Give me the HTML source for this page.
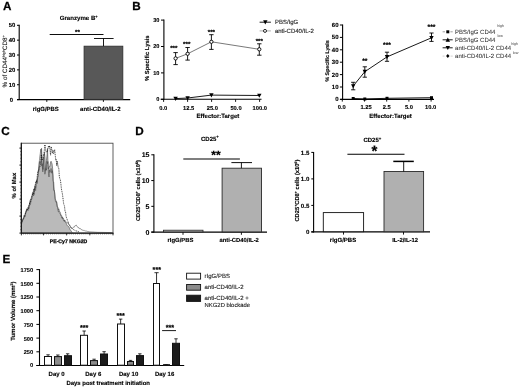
<!DOCTYPE html>
<html><head><meta charset="utf-8"><title>Figure</title>
<style>
html,body{margin:0;padding:0;background:#fff;}
body{width:520px;height:388px;overflow:hidden;}
svg{display:block;font-family:"Liberation Sans",sans-serif;text-rendering:geometricPrecision;will-change:transform;filter:grayscale(1) blur(0.35px);}
</style></head><body>
<svg width="520" height="388" viewBox="0 0 520 388">
<rect x="0" y="0" width="520" height="388" fill="#ffffff"/>
<text x="2.90" y="9.50" font-size="11.7" text-anchor="start" font-weight="bold" fill="#000" stroke="#000" stroke-width="0.25">A</text>
<text x="132.30" y="9.50" font-size="11.7" text-anchor="start" font-weight="bold" fill="#000" stroke="#000" stroke-width="0.25">B</text>
<text x="1.20" y="135.40" font-size="11.7" text-anchor="start" font-weight="bold" fill="#000" stroke="#000" stroke-width="0.25">C</text>
<text x="135.20" y="135.00" font-size="11.7" text-anchor="start" font-weight="bold" fill="#000" stroke="#000" stroke-width="0.25">D</text>
<text x="2.40" y="262.90" font-size="11.7" text-anchor="start" font-weight="bold" fill="#000" stroke="#000" stroke-width="0.25">E</text>
<text x="78.70" y="20.10" font-size="6.1" text-anchor="middle" font-weight="bold" fill="#000"  stroke="#000" stroke-width="0.12">Granzyme B<tspan font-size="4.0" dy="-2.30">+</tspan></text>
<line x1="19.20" y1="24.70" x2="19.20" y2="100.10" stroke="#000" stroke-width="1.1" />
<line x1="17.00" y1="99.60" x2="130.20" y2="99.60" stroke="#000" stroke-width="1.1" />
<line x1="17.00" y1="99.60" x2="19.20" y2="99.60" stroke="#000" stroke-width="1" />
<text x="13.10" y="101.55" font-size="5.9" text-anchor="end" font-weight="bold" fill="#000"  stroke="#000" stroke-width="0.12">0</text>
<line x1="17.00" y1="84.74" x2="19.20" y2="84.74" stroke="#000" stroke-width="1" />
<text x="15.20" y="86.69" font-size="5.9" text-anchor="end" font-weight="bold" fill="#000"  stroke="#000" stroke-width="0.12">10</text>
<line x1="17.00" y1="69.88" x2="19.20" y2="69.88" stroke="#000" stroke-width="1" />
<text x="15.20" y="71.83" font-size="5.9" text-anchor="end" font-weight="bold" fill="#000"  stroke="#000" stroke-width="0.12">20</text>
<line x1="17.00" y1="55.02" x2="19.20" y2="55.02" stroke="#000" stroke-width="1" />
<text x="15.20" y="56.97" font-size="5.9" text-anchor="end" font-weight="bold" fill="#000"  stroke="#000" stroke-width="0.12">30</text>
<line x1="17.00" y1="40.16" x2="19.20" y2="40.16" stroke="#000" stroke-width="1" />
<text x="15.20" y="42.11" font-size="5.9" text-anchor="end" font-weight="bold" fill="#000"  stroke="#000" stroke-width="0.12">40</text>
<line x1="17.00" y1="25.30" x2="19.20" y2="25.30" stroke="#000" stroke-width="1" />
<text x="15.20" y="27.25" font-size="5.9" text-anchor="end" font-weight="bold" fill="#000"  stroke="#000" stroke-width="0.12">50</text>
<line x1="46.80" y1="99.60" x2="46.80" y2="101.90" stroke="#000" stroke-width="0.9" />
<line x1="103.40" y1="99.60" x2="103.40" y2="101.90" stroke="#000" stroke-width="0.9" />
<rect x="84.10" y="46.20" width="38.70" height="53.20" fill="#585858" stroke="#303030" stroke-width="0.9"/>
<line x1="103.50" y1="38.50" x2="103.50" y2="46.20" stroke="#000" stroke-width="0.9" />
<line x1="94.00" y1="38.50" x2="113.60" y2="38.50" stroke="#000" stroke-width="0.9" />
<line x1="49.70" y1="34.50" x2="103.50" y2="34.50" stroke="#000" stroke-width="0.95" />
<text x="77.40" y="33.80" font-size="6.2" text-anchor="middle" font-weight="bold" fill="#000"  stroke="#000" stroke-width="0.22">**</text>
<text x="45.80" y="110.60" font-size="5.95" text-anchor="middle" font-weight="bold" fill="#000"  stroke="#000" stroke-width="0.12">rIgG/PBS</text>
<text x="100.40" y="110.60" font-size="6.05" text-anchor="middle" font-weight="bold" fill="#000"  stroke="#000" stroke-width="0.12">anti-CD40/IL-2</text>
<text x="7.20" y="61.30" font-size="6.3" text-anchor="middle" font-weight="normal" fill="#1a1a1a" transform="rotate(-90 7.20 61.30)"  stroke="#1a1a1a" stroke-width="0.12">% of CD44<tspan font-size="3.7" dy="-2.20">high</tspan><tspan dy="2.20">CD8</tspan><tspan font-size="3.9" dy="-2.20">+</tspan></text>
<line x1="163.90" y1="19.50" x2="163.90" y2="99.80" stroke="#000" stroke-width="1.1" />
<line x1="160.60" y1="99.30" x2="261.50" y2="99.30" stroke="#000" stroke-width="1.1" />
<line x1="161.00" y1="99.30" x2="163.90" y2="99.30" stroke="#000" stroke-width="1" />
<text x="159.40" y="101.20" font-size="5.6" text-anchor="end" font-weight="bold" fill="#000"  stroke="#000" stroke-width="0.12">0</text>
<line x1="161.00" y1="72.90" x2="163.90" y2="72.90" stroke="#000" stroke-width="1" />
<text x="159.40" y="74.80" font-size="5.6" text-anchor="end" font-weight="bold" fill="#000"  stroke="#000" stroke-width="0.12">10</text>
<line x1="161.00" y1="46.50" x2="163.90" y2="46.50" stroke="#000" stroke-width="1" />
<text x="159.40" y="48.40" font-size="5.6" text-anchor="end" font-weight="bold" fill="#000"  stroke="#000" stroke-width="0.12">20</text>
<line x1="161.00" y1="20.10" x2="163.90" y2="20.10" stroke="#000" stroke-width="1" />
<text x="159.40" y="22.00" font-size="5.6" text-anchor="end" font-weight="bold" fill="#000"  stroke="#000" stroke-width="0.12">30</text>
<line x1="163.60" y1="99.30" x2="163.60" y2="101.90" stroke="#000" stroke-width="0.9" />
<text x="163.20" y="109.80" font-size="5.75" text-anchor="middle" font-weight="bold" fill="#000"  stroke="#000" stroke-width="0.12">0.0</text>
<line x1="187.60" y1="99.30" x2="187.60" y2="101.90" stroke="#000" stroke-width="0.9" />
<text x="188.60" y="109.80" font-size="5.75" text-anchor="middle" font-weight="bold" fill="#000"  stroke="#000" stroke-width="0.12">12.5</text>
<line x1="211.60" y1="99.30" x2="211.60" y2="101.90" stroke="#000" stroke-width="0.9" />
<text x="212.30" y="109.80" font-size="5.75" text-anchor="middle" font-weight="bold" fill="#000"  stroke="#000" stroke-width="0.12">25.0</text>
<line x1="235.60" y1="99.30" x2="235.60" y2="101.90" stroke="#000" stroke-width="0.9" />
<text x="236.00" y="109.80" font-size="5.75" text-anchor="middle" font-weight="bold" fill="#000"  stroke="#000" stroke-width="0.12">50.0</text>
<line x1="259.60" y1="99.30" x2="259.60" y2="101.90" stroke="#000" stroke-width="0.9" />
<text x="259.80" y="109.80" font-size="5.75" text-anchor="middle" font-weight="bold" fill="#000"  stroke="#000" stroke-width="0.12">100.0</text>
<text x="217.90" y="118.00" font-size="6.03" text-anchor="middle" font-weight="bold" fill="#000"  stroke="#000" stroke-width="0.12">Effector:Target</text>
<text x="149.30" y="58.20" font-size="5.85" text-anchor="middle" font-weight="bold" fill="#000" transform="rotate(-90 149.30 58.20)"  stroke="#000" stroke-width="0.12">% Specific Lysis</text>
<polyline fill="none" stroke="#6a6a6a" stroke-width="0.9" points="175.6,58.4 187.6,53.8 211.4,41.8 259.3,49.3"/>
<line x1="175.60" y1="52.60" x2="175.60" y2="64.60" stroke="#000" stroke-width="0.9" />
<line x1="173.40" y1="52.60" x2="177.80" y2="52.60" stroke="#000" stroke-width="0.9" />
<line x1="173.40" y1="64.60" x2="177.80" y2="64.60" stroke="#000" stroke-width="0.9" />
<circle cx="175.6" cy="58.4" r="1.65" fill="#fff" stroke="#000" stroke-width="0.9"/>
<text x="173.80" y="50.00" font-size="6.2" text-anchor="middle" font-weight="bold" fill="#000"  stroke="#000" stroke-width="0.22">***</text>
<line x1="187.60" y1="47.50" x2="187.60" y2="60.10" stroke="#000" stroke-width="0.9" />
<line x1="185.40" y1="47.50" x2="189.80" y2="47.50" stroke="#000" stroke-width="0.9" />
<line x1="185.40" y1="60.10" x2="189.80" y2="60.10" stroke="#000" stroke-width="0.9" />
<circle cx="187.6" cy="53.8" r="1.65" fill="#fff" stroke="#000" stroke-width="0.9"/>
<text x="186.70" y="45.70" font-size="6.2" text-anchor="middle" font-weight="bold" fill="#000"  stroke="#000" stroke-width="0.22">***</text>
<line x1="211.40" y1="34.70" x2="211.40" y2="49.40" stroke="#000" stroke-width="0.9" />
<line x1="209.20" y1="34.70" x2="213.60" y2="34.70" stroke="#000" stroke-width="0.9" />
<line x1="209.20" y1="49.40" x2="213.60" y2="49.40" stroke="#000" stroke-width="0.9" />
<circle cx="211.4" cy="41.8" r="1.65" fill="#fff" stroke="#000" stroke-width="0.9"/>
<text x="211.40" y="34.10" font-size="6.2" text-anchor="middle" font-weight="bold" fill="#000"  stroke="#000" stroke-width="0.22">***</text>
<line x1="259.30" y1="43.80" x2="259.30" y2="55.20" stroke="#000" stroke-width="0.9" />
<line x1="257.10" y1="43.80" x2="261.50" y2="43.80" stroke="#000" stroke-width="0.9" />
<line x1="257.10" y1="55.20" x2="261.50" y2="55.20" stroke="#000" stroke-width="0.9" />
<circle cx="259.3" cy="49.3" r="1.65" fill="#fff" stroke="#000" stroke-width="0.9"/>
<text x="259.30" y="42.60" font-size="6.2" text-anchor="middle" font-weight="bold" fill="#000"  stroke="#000" stroke-width="0.22">***</text>
<polyline fill="none" stroke="#000" stroke-width="0.9" points="175.6,98.6 187.6,98.0 211.4,95.1 259.3,95.5"/>
<polygon points="173.40,96.73 177.80,96.73 175.60,100.91" fill="#000"/>
<polygon points="185.40,96.13 189.80,96.13 187.60,100.31" fill="#000"/>
<polygon points="209.20,93.23 213.60,93.23 211.40,97.41" fill="#000"/>
<polygon points="257.10,93.63 261.50,93.63 259.30,97.81" fill="#000"/>
<line x1="259.60" y1="22.20" x2="270.90" y2="22.20" stroke="#000" stroke-width="0.9" />
<polygon points="263.10,20.33 267.50,20.33 265.30,24.51" fill="#000"/>
<text x="274.90" y="24.30" font-size="6" text-anchor="start" font-weight="normal" fill="#222"  stroke="#222" stroke-width="0.12">PBS/IgG</text>
<line x1="259.60" y1="30.90" x2="270.90" y2="30.90" stroke="#999" stroke-width="0.8" />
<circle cx="265.0" cy="30.9" r="1.5" fill="#fff" stroke="#000" stroke-width="0.85"/>
<text x="274.90" y="33.00" font-size="6" text-anchor="start" font-weight="normal" fill="#222"  stroke="#222" stroke-width="0.12">anti-CD40/IL-2</text>
<line x1="342.60" y1="24.60" x2="342.60" y2="99.90" stroke="#000" stroke-width="1.1" />
<line x1="340.20" y1="99.40" x2="434.00" y2="99.40" stroke="#000" stroke-width="1.1" />
<line x1="339.90" y1="99.40" x2="342.60" y2="99.40" stroke="#000" stroke-width="1" />
<text x="338.50" y="101.45" font-size="6.0" text-anchor="end" font-weight="bold" fill="#000"  stroke="#000" stroke-width="0.12">0</text>
<line x1="339.90" y1="87.00" x2="342.60" y2="87.00" stroke="#000" stroke-width="1" />
<text x="338.50" y="89.05" font-size="6.0" text-anchor="end" font-weight="bold" fill="#000"  stroke="#000" stroke-width="0.12">10</text>
<line x1="339.90" y1="74.60" x2="342.60" y2="74.60" stroke="#000" stroke-width="1" />
<text x="338.50" y="76.65" font-size="6.0" text-anchor="end" font-weight="bold" fill="#000"  stroke="#000" stroke-width="0.12">20</text>
<line x1="339.90" y1="62.20" x2="342.60" y2="62.20" stroke="#000" stroke-width="1" />
<text x="338.50" y="64.25" font-size="6.0" text-anchor="end" font-weight="bold" fill="#000"  stroke="#000" stroke-width="0.12">30</text>
<line x1="339.90" y1="49.80" x2="342.60" y2="49.80" stroke="#000" stroke-width="1" />
<text x="338.50" y="51.85" font-size="6.0" text-anchor="end" font-weight="bold" fill="#000"  stroke="#000" stroke-width="0.12">40</text>
<line x1="339.90" y1="37.40" x2="342.60" y2="37.40" stroke="#000" stroke-width="1" />
<text x="338.50" y="39.45" font-size="6.0" text-anchor="end" font-weight="bold" fill="#000"  stroke="#000" stroke-width="0.12">50</text>
<line x1="339.90" y1="25.00" x2="342.60" y2="25.00" stroke="#000" stroke-width="1" />
<text x="338.50" y="27.05" font-size="6.0" text-anchor="end" font-weight="bold" fill="#000"  stroke="#000" stroke-width="0.12">60</text>
<line x1="342.30" y1="99.40" x2="342.30" y2="101.60" stroke="#000" stroke-width="0.9" />
<text x="341.80" y="109.40" font-size="5.75" text-anchor="middle" font-weight="bold" fill="#000"  stroke="#000" stroke-width="0.12">0.0</text>
<line x1="364.50" y1="99.40" x2="364.50" y2="101.60" stroke="#000" stroke-width="0.9" />
<text x="366.00" y="109.40" font-size="5.75" text-anchor="middle" font-weight="bold" fill="#000"  stroke="#000" stroke-width="0.12">1.25</text>
<line x1="386.70" y1="99.40" x2="386.70" y2="101.60" stroke="#000" stroke-width="0.9" />
<text x="386.80" y="109.40" font-size="5.75" text-anchor="middle" font-weight="bold" fill="#000"  stroke="#000" stroke-width="0.12">2.5</text>
<line x1="408.90" y1="99.40" x2="408.90" y2="101.60" stroke="#000" stroke-width="0.9" />
<text x="408.90" y="109.40" font-size="5.75" text-anchor="middle" font-weight="bold" fill="#000"  stroke="#000" stroke-width="0.12">5.0</text>
<line x1="431.10" y1="99.40" x2="431.10" y2="101.60" stroke="#000" stroke-width="0.9" />
<text x="430.60" y="109.40" font-size="5.75" text-anchor="middle" font-weight="bold" fill="#000"  stroke="#000" stroke-width="0.12">10.0</text>
<text x="390.60" y="117.80" font-size="5.99" text-anchor="middle" font-weight="bold" fill="#000"  stroke="#000" stroke-width="0.12">Effector:Target</text>
<text x="328.60" y="60.90" font-size="5.3" text-anchor="middle" font-weight="bold" fill="#000" transform="rotate(-90 328.60 60.90)"  stroke="#000" stroke-width="0.12">% Specific Lysis</text>
<polyline fill="none" stroke="#000" stroke-width="0.9" points="353.2,86.0 364.8,71.7 387.0,56.9 431.5,37.8"/>
<line x1="353.20" y1="82.30" x2="353.20" y2="89.80" stroke="#000" stroke-width="0.9" />
<line x1="351.10" y1="82.30" x2="355.30" y2="82.30" stroke="#000" stroke-width="0.9" />
<line x1="351.10" y1="89.80" x2="355.30" y2="89.80" stroke="#000" stroke-width="0.9" />
<polygon points="351.00,84.13 355.40,84.13 353.20,88.31" fill="#000"/>
<line x1="364.80" y1="66.80" x2="364.80" y2="77.20" stroke="#000" stroke-width="0.9" />
<line x1="362.70" y1="66.80" x2="366.90" y2="66.80" stroke="#000" stroke-width="0.9" />
<line x1="362.70" y1="77.20" x2="366.90" y2="77.20" stroke="#000" stroke-width="0.9" />
<polygon points="362.60,69.83 367.00,69.83 364.80,74.01" fill="#000"/>
<text x="364.80" y="63.10" font-size="6.7" text-anchor="middle" font-weight="bold" fill="#000"  stroke="#000" stroke-width="0.22">**</text>
<line x1="387.00" y1="52.20" x2="387.00" y2="61.30" stroke="#000" stroke-width="0.9" />
<line x1="384.90" y1="52.20" x2="389.10" y2="52.20" stroke="#000" stroke-width="0.9" />
<line x1="384.90" y1="61.30" x2="389.10" y2="61.30" stroke="#000" stroke-width="0.9" />
<polygon points="384.80,55.03 389.20,55.03 387.00,59.21" fill="#000"/>
<text x="387.00" y="47.40" font-size="6.7" text-anchor="middle" font-weight="bold" fill="#000"  stroke="#000" stroke-width="0.22">***</text>
<line x1="431.50" y1="33.00" x2="431.50" y2="41.40" stroke="#000" stroke-width="0.9" />
<line x1="429.40" y1="33.00" x2="433.60" y2="33.00" stroke="#000" stroke-width="0.9" />
<line x1="429.40" y1="41.40" x2="433.60" y2="41.40" stroke="#000" stroke-width="0.9" />
<polygon points="429.30,35.93 433.70,35.93 431.50,40.11" fill="#000"/>
<text x="431.50" y="28.70" font-size="6.7" text-anchor="middle" font-weight="bold" fill="#000"  stroke="#000" stroke-width="0.22">***</text>
<polyline fill="none" stroke="#000" stroke-width="0.9" points="353.2,98.5 364.8,99.0 387.0,98.3 431.5,97.7"/>
<rect x="351.7" y="97.0" width="3" height="3" fill="#000"/>
<rect x="363.3" y="97.5" width="3" height="3" fill="#000"/>
<rect x="385.5" y="96.8" width="3" height="3" fill="#000"/>
<rect x="430.0" y="96.2" width="3" height="3" fill="#000"/>
<line x1="442.60" y1="31.80" x2="445.00" y2="31.80" stroke="#888" stroke-width="0.8" />
<line x1="450.40" y1="31.80" x2="452.70" y2="31.80" stroke="#888" stroke-width="0.8" />
<rect x="446.3" y="30.3" width="3" height="3" fill="#000"/>
<text x="455.10" y="33.90" font-size="6" text-anchor="start" font-weight="normal" fill="#2e2e2e" stroke="#2e2e2e" stroke-width="0.04">PBS/IgG CD44</text>
<text x="497.20" y="27.40" font-size="3.7" text-anchor="start" font-weight="normal" fill="#444" stroke="none">high</text>
<line x1="442.60" y1="39.80" x2="452.70" y2="39.80" stroke="#000" stroke-width="0.9" />
<polygon points="445.60,41.67 450.00,41.67 447.80,37.49" fill="#000"/>
<text x="455.10" y="41.90" font-size="6" text-anchor="start" font-weight="normal" fill="#2e2e2e" stroke="#2e2e2e" stroke-width="0.04">PBS/IgG CD44</text>
<text x="497.50" y="37.30" font-size="3.7" text-anchor="start" font-weight="normal" fill="#444" stroke="none">low</text>
<line x1="442.60" y1="47.80" x2="452.70" y2="47.80" stroke="#000" stroke-width="0.9" />
<polygon points="445.60,45.93 450.00,45.93 447.80,50.11" fill="#000"/>
<text x="455.10" y="49.90" font-size="6" text-anchor="start" font-weight="normal" fill="#2e2e2e" stroke="#2e2e2e" stroke-width="0.04">anti-CD40/IL-2 CD44</text>
<text x="511.20" y="44.90" font-size="3.7" text-anchor="start" font-weight="normal" fill="#444" stroke="none">high</text>
<line x1="442.60" y1="56.10" x2="444.50" y2="56.10" stroke="#bbb" stroke-width="0.7" />
<line x1="450.60" y1="56.10" x2="452.70" y2="56.10" stroke="#bbb" stroke-width="0.7" />
<polygon points="446.1,56.1 447.8,54.1 449.5,56.1 447.8,58.1" fill="#000"/>
<text x="455.10" y="58.20" font-size="6" text-anchor="start" font-weight="normal" fill="#2e2e2e" stroke="#2e2e2e" stroke-width="0.04">anti-CD40/IL-2 CD44</text>
<text x="512.80" y="54.10" font-size="3.7" text-anchor="start" font-weight="normal" fill="#444" stroke="none">low</text>
<polygon points="21.44,232.85 21.44,223.23 22.09,221.07 22.73,219.54 23.25,219.32 23.76,219.09 24.28,215.22 24.79,216.94 25.40,215.52 26.00,211.20 26.60,209.96 27.24,209.47 27.89,210.89 28.53,209.59 29.18,207.08 29.82,201.27 30.46,199.50 31.11,199.68 31.75,199.33 32.40,197.11 33.04,193.20 33.69,188.87 34.33,190.85 34.97,185.63 35.62,190.64 36.13,184.24 36.65,179.97 37.16,183.60 37.68,177.30 38.20,176.46 38.71,168.44 39.48,161.46 40.00,163.64 40.77,161.38 41.55,148.29 42.32,167.16 43.09,169.44 43.87,158.58 44.38,152.37 44.90,157.10 45.67,170.61 46.44,160.27 46.96,156.05 47.47,148.80 48.25,168.95 49.02,166.67 49.79,166.60 50.57,162.00 51.08,161.25 51.60,162.50 52.11,164.21 52.63,168.76 53.14,181.38 53.66,181.87 54.18,189.66 54.69,194.22 55.21,199.92 55.72,202.06 56.24,201.82 56.75,201.78 57.27,206.38 57.78,206.99 58.30,211.64 58.81,210.82 59.33,212.83 59.85,213.70 60.36,214.31 60.88,215.64 61.39,216.29 61.91,218.10 62.42,217.08 62.94,218.28 63.45,220.27 63.97,221.12 64.48,220.03 65.00,221.92 65.52,222.52 66.03,222.72 66.55,224.25 67.06,225.24 67.58,225.86 68.09,225.92 68.61,226.62 69.12,227.30 69.64,228.60 70.15,229.62 70.67,230.33 71.19,231.06 71.70,231.75 72.22,232.59 72.22,232.85" fill="#bababa" stroke="none"/>
<polyline points="21.44,223.23 22.09,221.07 22.73,219.54 23.25,219.32 23.76,219.09 24.28,215.22 24.79,216.94 25.40,215.52 26.00,211.20 26.60,209.96 27.24,209.47 27.89,210.89 28.53,209.59 29.18,207.08 29.82,201.27 30.46,199.50 31.11,199.68 31.75,199.33 32.40,197.11 33.04,193.20 33.69,188.87 34.33,190.85 34.97,185.63 35.62,190.64 36.13,184.24 36.65,179.97 37.16,183.60 37.68,177.30 38.20,176.46 38.71,168.44 39.48,161.46 40.00,163.64 40.77,161.38 41.55,148.29 42.32,167.16 43.09,169.44 43.87,158.58 44.38,152.37 44.90,157.10 45.67,170.61 46.44,160.27 46.96,156.05 47.47,148.80 48.25,168.95 49.02,166.67 49.79,166.60 50.57,162.00 51.08,161.25 51.60,162.50 52.11,164.21 52.63,168.76 53.14,181.38 53.66,181.87 54.18,189.66 54.69,194.22 55.21,199.92 55.72,202.06 56.24,201.82 56.75,201.78 57.27,206.38 57.78,206.99 58.30,211.64 58.81,210.82 59.33,212.83 59.85,213.70 60.36,214.31 60.88,215.64 61.39,216.29 61.91,218.10 62.42,217.08 62.94,218.28 63.45,220.27 63.97,221.12 64.48,220.03 65.00,221.92 65.52,222.52 66.03,222.72 66.55,224.25 67.06,225.24 67.58,225.86 68.09,225.92 68.61,226.62 69.12,227.30 69.64,228.60 70.15,229.62 70.67,230.33 71.19,231.06 71.70,231.75 72.22,232.59" fill="none" stroke="#4a4a4a" stroke-width="0.6" stroke-linejoin="round"/>
<polyline points="21.44,224.22 22.04,221.21 22.65,220.58 23.25,219.17 23.81,216.58 24.36,215.26 24.92,214.41 25.48,212.43 26.04,212.48 26.60,208.81 27.16,209.87 27.73,209.12 28.30,207.48 28.87,205.18 29.43,204.42 29.95,204.27 30.46,204.71 30.98,200.02 31.49,197.45 32.01,195.86 32.53,192.61 33.04,194.00 33.56,195.83 34.07,194.71 34.59,188.27 35.10,187.91 35.62,188.06 36.13,180.99 36.65,181.50 37.16,182.18 37.68,177.36 38.20,171.00 38.71,171.58 39.23,162.50 39.74,156.96 40.26,153.74 40.77,149.08 41.29,154.37 41.80,166.09 42.32,163.73 42.84,171.86 43.35,156.98 43.87,164.99 44.38,169.06 44.90,174.22 45.41,172.00 45.93,168.60 46.44,170.10 46.96,161.39 47.47,163.65 47.99,161.56 48.51,173.61 49.02,176.97 49.54,169.80 50.05,172.48 50.57,171.66 51.08,168.43 51.73,173.22 52.37,170.60 53.02,175.94 53.66,190.19 54.18,190.10 54.69,192.38 55.21,198.32 55.72,200.06 56.24,201.07 56.75,203.80 57.27,207.02 57.78,207.48 58.30,210.26 58.81,208.82 59.33,210.55 59.85,212.25 60.36,212.41 60.88,215.38 61.39,215.19 61.91,216.04 62.42,218.75 62.94,218.53 63.45,218.27 63.97,219.63 64.48,221.35 65.00,220.69 65.52,220.91 66.03,222.13 66.55,222.67 67.06,222.96 67.58,222.78 68.09,223.01 68.61,224.36 69.12,224.84 69.64,225.38 70.15,226.09 70.67,226.98 71.19,227.30 71.70,227.62 72.22,228.61 72.73,228.07 73.25,227.30 73.76,227.03 74.28,227.14 74.79,226.09 75.31,225.43 75.82,225.55 76.34,225.17 76.86,226.35 77.37,226.64 77.89,227.02 78.40,227.87 78.92,227.67 79.43,228.62 79.95,228.52 80.46,228.65 80.98,228.99 81.49,229.75 82.01,229.67 82.53,230.12 83.08,230.03 83.64,230.51 84.20,230.36 84.76,230.82 85.32,230.94 85.88,231.09 86.43,231.11 86.98,231.25 87.53,231.44 88.09,231.42 88.64,231.56 89.19,231.73 89.74,231.84 90.26,231.88 90.77,231.84 91.29,231.91 91.80,231.93 92.32,231.97 92.84,232.00 93.35,232.05 93.87,232.08 94.38,232.14 94.90,232.15 95.41,232.20 95.93,232.22 96.44,232.26 96.96,232.30 97.47,232.33 98.00,232.34 98.52,232.35 99.05,232.36 99.57,232.37 100.10,232.38 100.62,232.39 101.15,232.40 101.67,232.41 102.20,232.42 102.72,232.43 103.25,232.43 103.77,232.44 104.30,232.45 104.82,232.46 105.35,232.47 105.87,232.48 106.40,232.49 106.92,232.50 107.45,232.51 107.97,232.52 108.50,232.53 109.02,232.54 109.55,232.55 110.07,232.56 110.60,232.57 111.12,232.58 111.65,232.59" fill="none" stroke="#444" stroke-width="0.55" stroke-linejoin="round"/>
<polyline points="21.44,223.96 22.09,221.61 22.73,219.28 23.28,218.45 23.84,217.72 24.39,216.94 24.94,215.28 25.49,213.48 26.05,211.75 26.60,210.51 27.11,208.90 27.63,209.99 28.14,206.98 28.66,208.68 29.18,205.01 29.78,202.40 30.38,203.06 30.98,199.91 31.54,196.77 32.10,195.33 32.65,194.15 33.21,192.48 33.77,194.39 34.33,189.06 34.85,187.63 35.36,184.24 35.88,181.75 36.39,181.95 36.91,178.92 37.51,173.88 38.11,170.63 38.71,170.70 39.23,167.52 39.74,166.87 40.26,166.01 40.77,163.73 41.29,154.78 41.80,160.00 42.32,159.89 42.84,158.65 43.35,154.76 43.87,155.70 44.38,149.57 44.90,144.62 45.41,147.40 45.93,152.31 46.44,151.80 46.96,151.23 47.47,151.83 47.99,147.97 48.51,145.98 49.02,147.60 49.54,145.58 50.05,150.26 50.57,155.17 51.17,146.66 51.77,149.39 52.37,153.27 53.02,150.18 53.66,153.61 54.18,151.68 54.69,149.63 55.21,154.71 55.72,160.09 56.24,159.28 56.75,165.77 57.27,161.22 57.78,164.65 58.30,167.94 58.81,168.13 59.33,176.62 59.85,178.65 60.36,179.82 60.88,183.73 61.39,188.77 61.91,191.50 62.42,193.88 62.94,197.99 63.45,202.31 63.97,205.32 64.48,205.79 65.00,211.17 65.52,211.67 66.03,216.07 66.55,217.89 67.06,219.15 67.58,220.89 68.09,221.67 68.61,223.86 69.12,224.25 69.64,225.31 70.15,226.45 70.67,227.43 71.19,227.52 71.70,228.20 72.22,228.86 72.73,229.40 73.30,229.51 73.87,229.89 74.43,230.12 75.00,230.46 75.57,230.79 76.12,230.92 76.67,231.03 77.22,231.19 77.78,231.37 78.33,231.55 78.88,231.70 79.43,231.81" fill="none" stroke="#111" stroke-width="0.8" stroke-dasharray="1 0.8" stroke-linejoin="round"/>
<rect x="21.4" y="143.2" width="91.6" height="89.9" fill="none" stroke="#444" stroke-width="0.85"/>
<line x1="21.30" y1="142.80" x2="21.30" y2="233.60" stroke="#1a1a1a" stroke-width="1.3" />
<line x1="20.80" y1="233.20" x2="113.40" y2="233.20" stroke="#1a1a1a" stroke-width="1.3" />
<line x1="19.30" y1="233.10" x2="21.40" y2="233.10" stroke="#111" stroke-width="0.8" />
<line x1="19.30" y1="216.10" x2="21.40" y2="216.10" stroke="#111" stroke-width="0.8" />
<line x1="19.30" y1="199.10" x2="21.40" y2="199.10" stroke="#111" stroke-width="0.8" />
<line x1="19.30" y1="182.10" x2="21.40" y2="182.10" stroke="#111" stroke-width="0.8" />
<line x1="19.30" y1="165.10" x2="21.40" y2="165.10" stroke="#111" stroke-width="0.8" />
<line x1="19.30" y1="148.10" x2="21.40" y2="148.10" stroke="#111" stroke-width="0.8" />
<line x1="20.10" y1="229.70" x2="21.40" y2="229.70" stroke="#222" stroke-width="0.5" />
<line x1="20.10" y1="226.30" x2="21.40" y2="226.30" stroke="#222" stroke-width="0.5" />
<line x1="20.10" y1="222.90" x2="21.40" y2="222.90" stroke="#222" stroke-width="0.5" />
<line x1="20.10" y1="219.50" x2="21.40" y2="219.50" stroke="#222" stroke-width="0.5" />
<line x1="20.10" y1="216.10" x2="21.40" y2="216.10" stroke="#222" stroke-width="0.5" />
<line x1="20.10" y1="212.70" x2="21.40" y2="212.70" stroke="#222" stroke-width="0.5" />
<line x1="20.10" y1="209.30" x2="21.40" y2="209.30" stroke="#222" stroke-width="0.5" />
<line x1="20.10" y1="205.90" x2="21.40" y2="205.90" stroke="#222" stroke-width="0.5" />
<line x1="20.10" y1="202.50" x2="21.40" y2="202.50" stroke="#222" stroke-width="0.5" />
<line x1="20.10" y1="199.10" x2="21.40" y2="199.10" stroke="#222" stroke-width="0.5" />
<line x1="20.10" y1="195.70" x2="21.40" y2="195.70" stroke="#222" stroke-width="0.5" />
<line x1="20.10" y1="192.30" x2="21.40" y2="192.30" stroke="#222" stroke-width="0.5" />
<line x1="20.10" y1="188.90" x2="21.40" y2="188.90" stroke="#222" stroke-width="0.5" />
<line x1="20.10" y1="185.50" x2="21.40" y2="185.50" stroke="#222" stroke-width="0.5" />
<line x1="20.10" y1="182.10" x2="21.40" y2="182.10" stroke="#222" stroke-width="0.5" />
<line x1="20.10" y1="178.70" x2="21.40" y2="178.70" stroke="#222" stroke-width="0.5" />
<line x1="20.10" y1="175.30" x2="21.40" y2="175.30" stroke="#222" stroke-width="0.5" />
<line x1="20.10" y1="171.90" x2="21.40" y2="171.90" stroke="#222" stroke-width="0.5" />
<line x1="20.10" y1="168.50" x2="21.40" y2="168.50" stroke="#222" stroke-width="0.5" />
<line x1="20.10" y1="165.10" x2="21.40" y2="165.10" stroke="#222" stroke-width="0.5" />
<line x1="20.10" y1="161.70" x2="21.40" y2="161.70" stroke="#222" stroke-width="0.5" />
<line x1="20.10" y1="158.30" x2="21.40" y2="158.30" stroke="#222" stroke-width="0.5" />
<line x1="20.10" y1="154.90" x2="21.40" y2="154.90" stroke="#222" stroke-width="0.5" />
<line x1="20.10" y1="151.50" x2="21.40" y2="151.50" stroke="#222" stroke-width="0.5" />
<line x1="20.10" y1="148.10" x2="21.40" y2="148.10" stroke="#222" stroke-width="0.5" />
<line x1="21.40" y1="233.10" x2="21.40" y2="235.40" stroke="#111" stroke-width="0.8" />
<line x1="43.50" y1="233.10" x2="43.50" y2="235.40" stroke="#111" stroke-width="0.8" />
<line x1="66.60" y1="233.10" x2="66.60" y2="235.40" stroke="#111" stroke-width="0.8" />
<line x1="89.80" y1="233.10" x2="89.80" y2="235.40" stroke="#111" stroke-width="0.8" />
<line x1="113.00" y1="233.10" x2="113.00" y2="235.40" stroke="#111" stroke-width="0.8" />
<line x1="21.40" y1="233.10" x2="21.40" y2="234.50" stroke="#222" stroke-width="0.5" />
<line x1="23.48" y1="233.10" x2="23.48" y2="234.50" stroke="#222" stroke-width="0.5" />
<line x1="25.56" y1="233.10" x2="25.56" y2="234.50" stroke="#222" stroke-width="0.5" />
<line x1="27.64" y1="233.10" x2="27.64" y2="234.50" stroke="#222" stroke-width="0.5" />
<line x1="29.72" y1="233.10" x2="29.72" y2="234.50" stroke="#222" stroke-width="0.5" />
<line x1="31.80" y1="233.10" x2="31.80" y2="234.50" stroke="#222" stroke-width="0.5" />
<line x1="33.88" y1="233.10" x2="33.88" y2="234.50" stroke="#222" stroke-width="0.5" />
<line x1="35.96" y1="233.10" x2="35.96" y2="234.50" stroke="#222" stroke-width="0.5" />
<line x1="38.04" y1="233.10" x2="38.04" y2="234.50" stroke="#222" stroke-width="0.5" />
<line x1="40.12" y1="233.10" x2="40.12" y2="234.50" stroke="#222" stroke-width="0.5" />
<line x1="42.20" y1="233.10" x2="42.20" y2="234.50" stroke="#222" stroke-width="0.5" />
<line x1="44.28" y1="233.10" x2="44.28" y2="234.50" stroke="#222" stroke-width="0.5" />
<line x1="46.36" y1="233.10" x2="46.36" y2="234.50" stroke="#222" stroke-width="0.5" />
<line x1="48.44" y1="233.10" x2="48.44" y2="234.50" stroke="#222" stroke-width="0.5" />
<line x1="50.52" y1="233.10" x2="50.52" y2="234.50" stroke="#222" stroke-width="0.5" />
<line x1="52.60" y1="233.10" x2="52.60" y2="234.50" stroke="#222" stroke-width="0.5" />
<line x1="54.68" y1="233.10" x2="54.68" y2="234.50" stroke="#222" stroke-width="0.5" />
<line x1="56.76" y1="233.10" x2="56.76" y2="234.50" stroke="#222" stroke-width="0.5" />
<line x1="58.84" y1="233.10" x2="58.84" y2="234.50" stroke="#222" stroke-width="0.5" />
<line x1="60.92" y1="233.10" x2="60.92" y2="234.50" stroke="#222" stroke-width="0.5" />
<line x1="63.00" y1="233.10" x2="63.00" y2="234.50" stroke="#222" stroke-width="0.5" />
<line x1="65.08" y1="233.10" x2="65.08" y2="234.50" stroke="#222" stroke-width="0.5" />
<line x1="67.16" y1="233.10" x2="67.16" y2="234.50" stroke="#222" stroke-width="0.5" />
<line x1="69.24" y1="233.10" x2="69.24" y2="234.50" stroke="#222" stroke-width="0.5" />
<line x1="71.32" y1="233.10" x2="71.32" y2="234.50" stroke="#222" stroke-width="0.5" />
<line x1="73.40" y1="233.10" x2="73.40" y2="234.50" stroke="#222" stroke-width="0.5" />
<line x1="75.48" y1="233.10" x2="75.48" y2="234.50" stroke="#222" stroke-width="0.5" />
<line x1="77.56" y1="233.10" x2="77.56" y2="234.50" stroke="#222" stroke-width="0.5" />
<line x1="79.64" y1="233.10" x2="79.64" y2="234.50" stroke="#222" stroke-width="0.5" />
<line x1="81.72" y1="233.10" x2="81.72" y2="234.50" stroke="#222" stroke-width="0.5" />
<line x1="83.80" y1="233.10" x2="83.80" y2="234.50" stroke="#222" stroke-width="0.5" />
<line x1="85.88" y1="233.10" x2="85.88" y2="234.50" stroke="#222" stroke-width="0.5" />
<line x1="87.96" y1="233.10" x2="87.96" y2="234.50" stroke="#222" stroke-width="0.5" />
<line x1="90.04" y1="233.10" x2="90.04" y2="234.50" stroke="#222" stroke-width="0.5" />
<line x1="92.12" y1="233.10" x2="92.12" y2="234.50" stroke="#222" stroke-width="0.5" />
<line x1="94.20" y1="233.10" x2="94.20" y2="234.50" stroke="#222" stroke-width="0.5" />
<line x1="96.28" y1="233.10" x2="96.28" y2="234.50" stroke="#222" stroke-width="0.5" />
<line x1="98.36" y1="233.10" x2="98.36" y2="234.50" stroke="#222" stroke-width="0.5" />
<line x1="100.44" y1="233.10" x2="100.44" y2="234.50" stroke="#222" stroke-width="0.5" />
<line x1="102.52" y1="233.10" x2="102.52" y2="234.50" stroke="#222" stroke-width="0.5" />
<line x1="104.60" y1="233.10" x2="104.60" y2="234.50" stroke="#222" stroke-width="0.5" />
<line x1="106.68" y1="233.10" x2="106.68" y2="234.50" stroke="#222" stroke-width="0.5" />
<line x1="108.76" y1="233.10" x2="108.76" y2="234.50" stroke="#222" stroke-width="0.5" />
<line x1="110.84" y1="233.10" x2="110.84" y2="234.50" stroke="#222" stroke-width="0.5" />
<line x1="112.92" y1="233.10" x2="112.92" y2="234.50" stroke="#222" stroke-width="0.5" />
<text x="16.20" y="185.60" font-size="5.9" text-anchor="middle" font-weight="bold" fill="#000" transform="rotate(-90 16.20 185.60)"  stroke="#000" stroke-width="0.12">% of Max</text>
<text x="68.50" y="242.60" font-size="5.15" text-anchor="middle" font-weight="bold" fill="#000" stroke="#000" stroke-width="0.25">PE-Cy7 NKG2D</text>
<text x="201.00" y="140.70" font-size="6.0" text-anchor="start" font-weight="bold" fill="#000"  stroke="#000" stroke-width="0.12">CD25<tspan font-size="4.3" dy="-2.30">+</tspan></text>
<line x1="153.90" y1="154.30" x2="153.90" y2="232.60" stroke="#000" stroke-width="1.1" />
<line x1="151.30" y1="232.10" x2="267.00" y2="232.10" stroke="#000" stroke-width="1.1" />
<line x1="151.30" y1="232.10" x2="153.90" y2="232.10" stroke="#000" stroke-width="1" />
<text x="149.50" y="234.50" font-size="7.0" text-anchor="end" font-weight="bold" fill="#000"  stroke="#000" stroke-width="0.12">0</text>
<line x1="151.30" y1="206.33" x2="153.90" y2="206.33" stroke="#000" stroke-width="1" />
<text x="149.50" y="208.73" font-size="7.0" text-anchor="end" font-weight="bold" fill="#000"  stroke="#000" stroke-width="0.12">5</text>
<line x1="151.30" y1="180.57" x2="153.90" y2="180.57" stroke="#000" stroke-width="1" />
<text x="149.50" y="182.97" font-size="7.0" text-anchor="end" font-weight="bold" fill="#000"  stroke="#000" stroke-width="0.12">10</text>
<line x1="151.30" y1="154.80" x2="153.90" y2="154.80" stroke="#000" stroke-width="1" />
<text x="149.50" y="157.20" font-size="7.0" text-anchor="end" font-weight="bold" fill="#000"  stroke="#000" stroke-width="0.12">15</text>
<line x1="183.00" y1="232.10" x2="183.00" y2="234.80" stroke="#000" stroke-width="0.9" />
<line x1="241.40" y1="232.10" x2="241.40" y2="234.80" stroke="#000" stroke-width="0.9" />
<rect x="163.40" y="230.20" width="39.60" height="1.70" fill="#c0c0c0" stroke="#222" stroke-width="0.8"/>
<rect x="222.10" y="168.20" width="39.40" height="63.70" fill="#b0b0b0" stroke="#2a2a2a" stroke-width="0.9"/>
<line x1="241.40" y1="162.60" x2="241.40" y2="168.20" stroke="#000" stroke-width="0.9" />
<line x1="231.40" y1="162.60" x2="252.00" y2="162.60" stroke="#000" stroke-width="0.95" />
<line x1="183.30" y1="158.90" x2="239.90" y2="158.90" stroke="#000" stroke-width="1.05" />
<text x="215.90" y="159.20" font-size="12" text-anchor="middle" font-weight="bold" fill="#000"  stroke="#000" stroke-width="0.22">**</text>
<text x="180.50" y="242.40" font-size="5.92" text-anchor="middle" font-weight="bold" fill="#000"  stroke="#000" stroke-width="0.12">rIgG/PBS</text>
<text x="239.20" y="242.40" font-size="5.86" text-anchor="middle" font-weight="bold" fill="#000"  stroke="#000" stroke-width="0.12">anti-CD40/IL-2</text>
<text x="139.60" y="190.60" font-size="5.65" text-anchor="middle" font-weight="bold" fill="#000" transform="rotate(-90 139.60 190.60)"  stroke="#000" stroke-width="0.12">CD25<tspan font-size="3.6" dy="-2.10">+</tspan><tspan dy="2.10">CD8</tspan><tspan font-size="3.6" dy="-2.10">+</tspan><tspan dy="2.10"> cells (x10</tspan><tspan font-size="3.6" dy="-2.10">6</tspan><tspan dy="2.10">)</tspan></text>
<text x="363.40" y="141.80" font-size="6.0" text-anchor="start" font-weight="bold" fill="#000"  stroke="#000" stroke-width="0.12">CD25<tspan font-size="4.3" dy="-2.30">+</tspan></text>
<line x1="313.60" y1="151.90" x2="313.60" y2="232.40" stroke="#000" stroke-width="1.1" />
<line x1="311.30" y1="231.90" x2="430.00" y2="231.90" stroke="#000" stroke-width="1.1" />
<line x1="311.30" y1="231.90" x2="313.60" y2="231.90" stroke="#000" stroke-width="1" />
<text x="309.30" y="234.00" font-size="6.1" text-anchor="end" font-weight="bold" fill="#000"  stroke="#000" stroke-width="0.12">0</text>
<line x1="311.30" y1="205.40" x2="313.60" y2="205.40" stroke="#000" stroke-width="1" />
<text x="309.30" y="207.50" font-size="6.1" text-anchor="end" font-weight="bold" fill="#000"  stroke="#000" stroke-width="0.12">0.5</text>
<line x1="311.30" y1="178.90" x2="313.60" y2="178.90" stroke="#000" stroke-width="1" />
<text x="309.30" y="181.00" font-size="6.1" text-anchor="end" font-weight="bold" fill="#000"  stroke="#000" stroke-width="0.12">1.0</text>
<line x1="311.30" y1="152.40" x2="313.60" y2="152.40" stroke="#000" stroke-width="1" />
<text x="309.30" y="154.50" font-size="6.1" text-anchor="end" font-weight="bold" fill="#000"  stroke="#000" stroke-width="0.12">1.5</text>
<line x1="343.50" y1="231.90" x2="343.50" y2="234.60" stroke="#000" stroke-width="0.9" />
<line x1="403.50" y1="231.90" x2="403.50" y2="234.60" stroke="#000" stroke-width="0.9" />
<rect x="323.30" y="212.60" width="40.30" height="19.10" fill="#fff" stroke="#111" stroke-width="0.9"/>
<rect x="384.00" y="171.50" width="39.60" height="60.20" fill="#b0b0b0" stroke="#2a2a2a" stroke-width="0.9"/>
<line x1="403.70" y1="161.40" x2="403.70" y2="171.50" stroke="#000" stroke-width="0.9" />
<line x1="393.30" y1="161.40" x2="413.80" y2="161.40" stroke="#000" stroke-width="1.5" />
<line x1="347.40" y1="154.30" x2="404.50" y2="154.30" stroke="#000" stroke-width="1.05" />
<text x="374.50" y="155.80" font-size="15" text-anchor="middle" font-weight="bold" fill="#000"  stroke="#000" stroke-width="0.22">*</text>
<text x="343.00" y="242.40" font-size="6.0" text-anchor="middle" font-weight="bold" fill="#000"  stroke="#000" stroke-width="0.12">rIgG/PBS</text>
<text x="405.20" y="242.40" font-size="5.92" text-anchor="middle" font-weight="bold" fill="#000"  stroke="#000" stroke-width="0.12">IL-2/IL-12</text>
<text x="298.80" y="190.60" font-size="5.79" text-anchor="middle" font-weight="bold" fill="#000" transform="rotate(-90 298.80 190.60)"  stroke="#000" stroke-width="0.12">CD25<tspan font-size="3.5" dy="-2.10">+</tspan><tspan dy="2.10">CD8</tspan><tspan font-size="3.5" dy="-2.10">+</tspan><tspan dy="2.10"> cells (x10</tspan><tspan font-size="3.5" dy="-2.10">6</tspan><tspan dy="2.10">)</tspan></text>
<line x1="39.50" y1="269.10" x2="39.50" y2="366.00" stroke="#000" stroke-width="1.1" />
<line x1="36.40" y1="365.50" x2="184.20" y2="365.50" stroke="#000" stroke-width="1.1" />
<line x1="36.40" y1="365.50" x2="39.50" y2="365.50" stroke="#000" stroke-width="1" />
<text x="33.00" y="367.40" font-size="5.6" text-anchor="end" font-weight="bold" fill="#000"  stroke="#000" stroke-width="0.12">0</text>
<line x1="36.40" y1="351.80" x2="39.50" y2="351.80" stroke="#000" stroke-width="1" />
<text x="33.00" y="354.20" font-size="5.6" text-anchor="end" font-weight="bold" fill="#000"  stroke="#000" stroke-width="0.12">250</text>
<line x1="36.40" y1="338.10" x2="39.50" y2="338.10" stroke="#000" stroke-width="1" />
<text x="33.00" y="340.50" font-size="5.6" text-anchor="end" font-weight="bold" fill="#000"  stroke="#000" stroke-width="0.12">500</text>
<line x1="36.40" y1="324.40" x2="39.50" y2="324.40" stroke="#000" stroke-width="1" />
<text x="33.00" y="326.80" font-size="5.6" text-anchor="end" font-weight="bold" fill="#000"  stroke="#000" stroke-width="0.12">750</text>
<line x1="36.40" y1="310.70" x2="39.50" y2="310.70" stroke="#000" stroke-width="1" />
<text x="33.00" y="313.10" font-size="5.6" text-anchor="end" font-weight="bold" fill="#000"  stroke="#000" stroke-width="0.12">1000</text>
<line x1="36.40" y1="297.00" x2="39.50" y2="297.00" stroke="#000" stroke-width="1" />
<text x="33.00" y="299.40" font-size="5.6" text-anchor="end" font-weight="bold" fill="#000"  stroke="#000" stroke-width="0.12">1250</text>
<line x1="36.40" y1="283.30" x2="39.50" y2="283.30" stroke="#000" stroke-width="1" />
<text x="33.00" y="285.70" font-size="5.6" text-anchor="end" font-weight="bold" fill="#000"  stroke="#000" stroke-width="0.12">1500</text>
<line x1="36.40" y1="269.60" x2="39.50" y2="269.60" stroke="#000" stroke-width="1" />
<text x="33.00" y="272.00" font-size="5.6" text-anchor="end" font-weight="bold" fill="#000"  stroke="#000" stroke-width="0.12">1750</text>
<text x="14.90" y="311.10" font-size="6.0" text-anchor="middle" font-weight="bold" fill="#000" transform="rotate(-90 14.90 311.10)"  stroke="#000" stroke-width="0.12">Tumor Volume (mm<tspan font-size="3.6" dy="-2.20">3</tspan><tspan dy="2.20">)</tspan></text>
<text x="56.60" y="376.40" font-size="6.0" text-anchor="middle" font-weight="bold" fill="#000"  stroke="#000" stroke-width="0.12">Day 0</text>
<line x1="48.05" y1="354.80" x2="48.05" y2="356.50" stroke="#000" stroke-width="0.8" />
<line x1="46.35" y1="354.80" x2="49.75" y2="354.80" stroke="#000" stroke-width="0.8" />
<rect x="44.50" y="356.50" width="7.00" height="8.70" fill="#fff" stroke="#111" stroke-width="1.0"/>
<line x1="57.85" y1="355.00" x2="57.85" y2="356.60" stroke="#000" stroke-width="0.8" />
<line x1="56.15" y1="355.00" x2="59.55" y2="355.00" stroke="#000" stroke-width="0.8" />
<rect x="54.50" y="356.60" width="7.00" height="8.60" fill="#8c8c8c" stroke="#111" stroke-width="1.0"/>
<line x1="67.65" y1="353.80" x2="67.65" y2="355.70" stroke="#000" stroke-width="0.8" />
<line x1="65.95" y1="353.80" x2="69.35" y2="353.80" stroke="#000" stroke-width="0.8" />
<rect x="64.50" y="355.70" width="7.00" height="9.50" fill="#1c1c1c" stroke="#111" stroke-width="1.0"/>
<text x="93.30" y="376.40" font-size="6.0" text-anchor="middle" font-weight="bold" fill="#000"  stroke="#000" stroke-width="0.12">Day 6</text>
<line x1="84.15" y1="331.00" x2="84.15" y2="335.30" stroke="#000" stroke-width="0.8" />
<line x1="82.45" y1="331.00" x2="85.85" y2="331.00" stroke="#000" stroke-width="0.8" />
<rect x="80.50" y="335.30" width="7.00" height="29.90" fill="#fff" stroke="#111" stroke-width="1.0"/>
<line x1="94.10" y1="359.20" x2="94.10" y2="360.60" stroke="#000" stroke-width="0.8" />
<line x1="92.40" y1="359.20" x2="95.80" y2="359.20" stroke="#000" stroke-width="0.8" />
<rect x="90.50" y="360.60" width="7.00" height="4.60" fill="#8c8c8c" stroke="#111" stroke-width="1.0"/>
<line x1="104.10" y1="351.70" x2="104.10" y2="354.00" stroke="#000" stroke-width="0.8" />
<line x1="102.40" y1="351.70" x2="105.80" y2="351.70" stroke="#000" stroke-width="0.8" />
<rect x="100.50" y="354.00" width="7.00" height="11.20" fill="#1c1c1c" stroke="#111" stroke-width="1.0"/>
<text x="84.20" y="330.30" font-size="7.2" text-anchor="middle" font-weight="bold" fill="#000"  stroke="#000" stroke-width="0.22">***</text>
<text x="128.60" y="376.40" font-size="6.0" text-anchor="middle" font-weight="bold" fill="#000"  stroke="#000" stroke-width="0.12">Day 10</text>
<line x1="120.65" y1="319.10" x2="120.65" y2="324.00" stroke="#000" stroke-width="0.8" />
<line x1="118.95" y1="319.10" x2="122.35" y2="319.10" stroke="#000" stroke-width="0.8" />
<rect x="117.50" y="324.00" width="7.00" height="41.20" fill="#fff" stroke="#111" stroke-width="1.0"/>
<line x1="130.55" y1="360.40" x2="130.55" y2="361.50" stroke="#000" stroke-width="0.8" />
<line x1="128.85" y1="360.40" x2="132.25" y2="360.40" stroke="#000" stroke-width="0.8" />
<rect x="127.50" y="361.50" width="6.00" height="3.70" fill="#8c8c8c" stroke="#111" stroke-width="1.0"/>
<line x1="139.85" y1="353.80" x2="139.85" y2="355.60" stroke="#000" stroke-width="0.8" />
<line x1="138.15" y1="353.80" x2="141.55" y2="353.80" stroke="#000" stroke-width="0.8" />
<rect x="136.50" y="355.60" width="7.00" height="9.60" fill="#1c1c1c" stroke="#111" stroke-width="1.0"/>
<text x="120.60" y="318.30" font-size="7.2" text-anchor="middle" font-weight="bold" fill="#000"  stroke="#000" stroke-width="0.22">***</text>
<text x="164.60" y="376.40" font-size="6.0" text-anchor="middle" font-weight="bold" fill="#000"  stroke="#000" stroke-width="0.12">Day 16</text>
<line x1="156.55" y1="272.70" x2="156.55" y2="283.50" stroke="#000" stroke-width="0.8" />
<line x1="154.45" y1="272.70" x2="158.65" y2="272.70" stroke="#000" stroke-width="0.8" />
<rect x="153.50" y="283.50" width="6.00" height="81.70" fill="#fff" stroke="#111" stroke-width="1.0"/>
<line x1="166.10" y1="364.50" x2="166.10" y2="364.70" stroke="#000" stroke-width="0.8" />
<line x1="164.40" y1="364.50" x2="167.80" y2="364.50" stroke="#000" stroke-width="0.8" />
<rect x="163.50" y="364.70" width="6.00" height="0.50" fill="#8c8c8c" stroke="#111" stroke-width="1.0"/>
<line x1="176.00" y1="338.80" x2="176.00" y2="343.30" stroke="#000" stroke-width="0.8" />
<line x1="174.30" y1="338.80" x2="177.70" y2="338.80" stroke="#000" stroke-width="0.8" />
<rect x="172.50" y="343.30" width="7.00" height="21.90" fill="#1c1c1c" stroke="#111" stroke-width="1.0"/>
<text x="156.80" y="272.10" font-size="7.2" text-anchor="middle" font-weight="bold" fill="#000"  stroke="#000" stroke-width="0.22">***</text>
<line x1="162.10" y1="330.60" x2="176.00" y2="330.60" stroke="#000" stroke-width="0.9" />
<text x="169.90" y="329.80" font-size="7.3" text-anchor="middle" font-weight="bold" fill="#000"  stroke="#000" stroke-width="0.22">***</text>
<text x="108.20" y="384.90" font-size="5.95" text-anchor="middle" font-weight="bold" fill="#000"  stroke="#000" stroke-width="0.12">Days post treatment initiation</text>
<rect x="186.60" y="273.20" width="14.00" height="5.90" fill="#fff" stroke="#111" stroke-width="0.9"/>
<text x="204.60" y="277.60" font-size="6.0" text-anchor="start" font-weight="normal" fill="#222"  stroke="#222" stroke-width="0.12">rIgG/PBS</text>
<rect x="186.60" y="284.50" width="14.00" height="5.70" fill="#8c8c8c" stroke="#111" stroke-width="0.9"/>
<text x="204.60" y="288.90" font-size="6.0" text-anchor="start" font-weight="normal" fill="#222"  stroke="#222" stroke-width="0.12">anti-CD40/IL-2</text>
<rect x="186.60" y="295.20" width="14.00" height="6.20" fill="#1c1c1c" stroke="#111" stroke-width="0.9"/>
<text x="204.60" y="299.90" font-size="6.0" text-anchor="start" font-weight="normal" fill="#222"  stroke="#222" stroke-width="0.12">anti-CD40/IL-2 +</text>
<text x="204.60" y="307.30" font-size="5.9" text-anchor="start" font-weight="normal" fill="#222"  stroke="#222" stroke-width="0.12">NKG2D blockade</text>
</svg>
</body></html>
